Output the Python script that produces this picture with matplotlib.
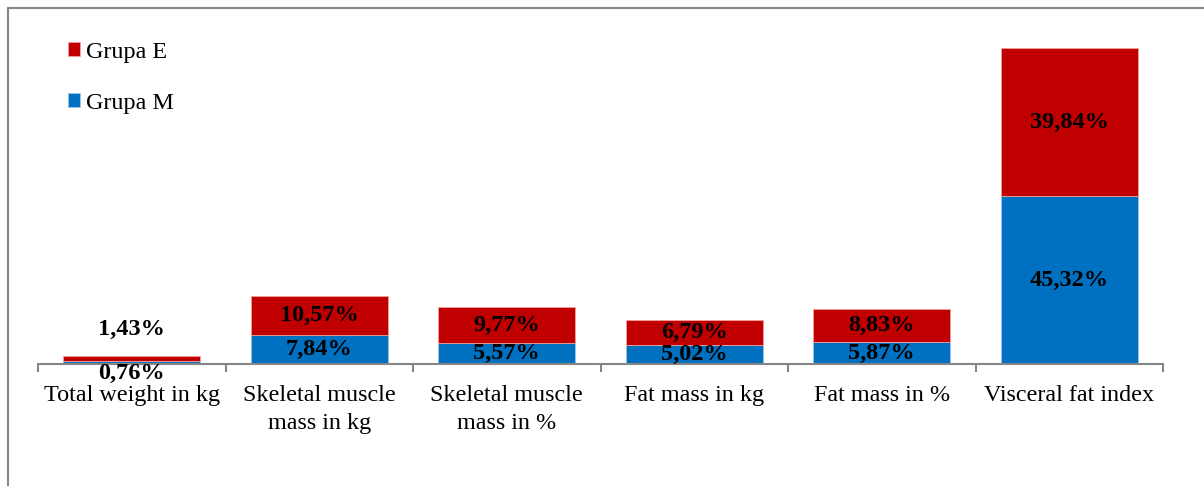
import numpy as np
import matplotlib.pyplot as plt
import matplotlib.patches as patches

plt.rcParams['font.family'] = ['Liberation Serif', 'DejaVu Serif']

categories = ['Total weight in kg', 'Skeletal muscle\nmass in kg', 'Skeletal muscle\nmass in %',
              'Fat mass in kg', 'Fat mass in %', 'Visceral fat index']
grupa_m = [0.76, 7.84, 5.57, 5.02, 5.87, 45.32]
grupa_e = [1.43, 10.57, 9.77, 6.79, 8.83, 39.84]
labels_m = ['0,76%', '7,84%', '5,57%', '5,02%', '5,87%', '45,32%']
labels_e = ['1,43%', '10,57%', '9,77%', '6,79%', '8,83%', '39,84%']

blue = '#0070C0'
red = '#C00000'
gray = '#868686'

fig = plt.figure(figsize=(12.04, 4.86), dpi=100)
ax = fig.add_axes([38/1204, 122/486, 1125/1204, 356/486])

x = np.arange(len(categories))
w = 0.73
bm = ax.bar(x, grupa_m, w, color=blue, edgecolor='#9DC3E6', linewidth=0.6, label='Grupa M')
be = ax.bar(x, grupa_e, w, bottom=grupa_m, color=red, edgecolor='#F4A0A0', linewidth=0.6, label='Grupa E')

ax.set_xlim(-0.5, len(categories) - 0.5)
ax.set_ylim(0, 96)

# value labels, centred in each segment (first bar too thin, labels outside)
for i in range(len(categories)):
    if i == 0:
        ym = -2.5
        ye = 9.2
    else:
        ym = grupa_m[i] / 2
        ye = grupa_m[i] + grupa_e[i] / 2
    ax.text(x[i], ym, labels_m[i], ha='center', va='center', fontsize=17.5,
            fontweight='bold', clip_on=False, zorder=5)
    ax.text(x[i], ye, labels_e[i], ha='center', va='center', fontsize=17.5,
            fontweight='bold', clip_on=False, zorder=5)

for s in ['top', 'right', 'left']:
    ax.spines[s].set_visible(False)
ax.spines['bottom'].set_color(gray)
ax.spines['bottom'].set_linewidth(1.5)
ax.set_yticks([])

ax.set_xticks(x)
ax.set_xticklabels(categories, fontsize=17.4, linespacing=1.42)
ax.tick_params(axis='x', which='major', length=0, pad=15)
ax.set_xticks(np.arange(-0.5, len(categories)), minor=True)
ax.tick_params(axis='x', which='minor', length=6, width=1.5, color=gray)

ax.legend(handles=[be, bm], loc='upper left', bbox_to_anchor=(46/1204, 466/486),
          bbox_transform=fig.transFigure, frameon=False, fontsize=17.4,
          handlelength=0.5, handleheight=0.5, handletextpad=0.25, labelspacing=1.25)

# outer chart frame
frame = patches.Rectangle((8/1204, -0.2), 1.2, 0.2 + 478/486, transform=fig.transFigure,
                          fill=False, edgecolor=gray, linewidth=1.5)
fig.patches.append(frame)

fig.savefig('out.png', dpi=100)
